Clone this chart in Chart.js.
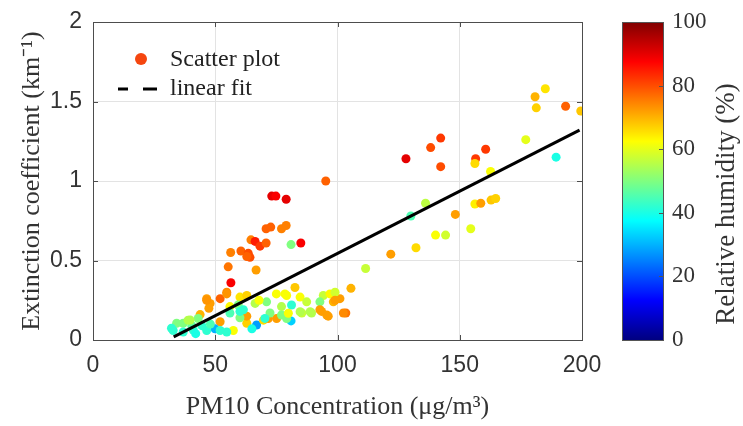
<!DOCTYPE html>
<html>
<head>
<meta charset="utf-8">
<script src="https://cdn.jsdelivr.net/npm/chart.js@4.4.1/dist/chart.umd.min.js"></script>
<style>
html,body{margin:0;padding:0;background:#fff;}
</style>
</head>
<body>
<canvas id="myChart" width="743" height="426"></canvas>
<script>
// values: PM10, extinction coefficient, relative humidity
var pm10 = [180.8,185,181.3,193.3,199.5,177,189.4,142.2,138.1,128,142.2,160.6,156.5,156.2,162.6,136,130,148.2,156.2,158.6,162.8,164.7,154.5,140.1,144.2,132.1,121.8,111.5,105.5,103.4,101,
  95.2,73.1,74.8,79,70.8,72.7,77.1,79,81,85,64.6,66.3,68.3,70.8,60.5,56.3,63.5,64.2,62.9,55.3,66.7,56.4,54.7,52,46.5,47.9,47.4,43.8,54.7,46.5,
  60.1,62.9,56,66.3,71,75,79.2,82.6,84.7,87.4,77.1,81.2,81,89.4,85.4,94.2,96.9,98.3,96.2,93.5,102.4,66.9,62.9,62.9,60.1,56,52,49.9,52,46.5,44.5,40.4,36.9,34.2,32.8,36.9,38.9,43,57.4,54.7,69.7,71.7,79.2,75.1,72.4,59.4,61.5,67.9,70.3,77.1,79.9,84.7,88.8,78.5,92.8,92.8,95.6,99,99,32.1,41,39.7,60.1,48,42,65];
var extinction = [1.53,1.58,1.46,1.47,1.44,1.26,1.15,1.27,1.21,1.14,1.09,1.20,1.14,1.11,1.06,0.86,0.78,0.79,0.855,0.86,0.88,0.89,0.70,0.66,0.66,0.58,0.54,0.45,0.325,0.17,0.26,
  1.0,0.905,0.905,0.885,0.70,0.71,0.70,0.72,0.60,0.61,0.63,0.62,0.59,0.61,0.56,0.55,0.545,0.52,0.525,0.46,0.44,0.36,0.30,0.26,0.26,0.23,0.20,0.16,0.29,0.25,
  0.27,0.28,0.21,0.23,0.24,0.29,0.28,0.33,0.27,0.24,0.21,0.22,0.12,0.17,0.17,0.28,0.29,0.24,0.15,0.18,0.17,0.094,0.105,0.15,0.14,0.17,0.115,0.07,0.06,0.06,0.09,0.09,0.105,0.105,0.06,0.05,0.125,0.135,0.06,0.05,0.125,0.135,0.135,0.135,0.17,0.22,0.19,0.25,0.136,0.157,0.168,0.178,0.178,0.29,0.24,0.19,0.157,0.30,0.25,0.074,0.063,0.126,0.18,0.1,0.04,0.07];
var humidity = [70,65,67,78,68,60,40,82,80,90,80,82,82,66,62,56,45,72,64,72,68,67,60,62,58,66,72,57,70,76,72,
  78,90,88,90,78,78,75,75,50,88,75,85,82,78,78,75,80,80,78,76,72,88,74,78,72,72,72,70,73,73,
  65,67,63,55,50,62,62,68,62,57,55,42,33,55,57,57,63,70,72,72,74,28,67,72,50,45,72,30,42,42,42,47,50,50,42,42,55,50,62,42,66,72,50,72,50,50,42,62,42,50,62,55,55,62,50,72,72,58,72,42,42,55,42,45,40,40];
// linear fit end points
var fitX = [33, 199];
var fitY = [0.02, 1.32];
var rhTicks = [0, 20, 40, 60, 80, 100];

function jet(v){
  v = v / 100;
  function c(t){ return Math.round(255 * Math.max(0, Math.min(1, t))); }
  return 'rgb(' + c(1.5 - Math.abs(4*v - 3)) + ',' + c(1.5 - Math.abs(4*v - 2)) + ',' + c(1.5 - Math.abs(4*v - 1)) + ')';
}

var scatterPts = pm10.map(function(x, i){ return {x: x, y: extinction[i]}; });
var fitPts = fitX.map(function(x, i){ return {x: x, y: fitY[i]}; });

// keep tick label overhang from shrinking the plot
function noPad(s){ s.paddingTop = 0; s.paddingBottom = 0; s.paddingLeft = 0; s.paddingRight = 0; }

//draws box, inward ticks, legend and the colour bar
var extras = {
  id: 'extras',
  afterDraw: function(chart){
    var ctx = chart.ctx, a = chart.chartArea;
    var sx = chart.scales.x, sy = chart.scales.y, rh = chart.scales.rh;
    ctx.save();
    ctx.strokeStyle = '#4d4d4d';
    ctx.lineWidth = 1;
    ctx.strokeRect(Math.round(a.left) + 0.5, Math.round(a.top) + 0.5, Math.round(a.width), Math.round(a.height));
    ctx.beginPath();
    sx.ticks.forEach(function(t){
      var px = Math.round(sx.getPixelForValue(t.value)) + 0.5;
      ctx.moveTo(px, a.bottom); ctx.lineTo(px, a.bottom - 5);
      ctx.moveTo(px, a.top); ctx.lineTo(px, a.top + 5);
    });
    sy.ticks.forEach(function(t){
      var py = Math.round(sy.getPixelForValue(t.value)) + 0.5;
      ctx.moveTo(a.left, py); ctx.lineTo(a.left + 5, py);
      ctx.moveTo(a.right, py); ctx.lineTo(a.right - 5, py);
    });
    ctx.stroke();

    // legend
    var ds = chart.data.datasets;
    ctx.font = '24px "Liberation Serif"';
    ctx.textBaseline = 'middle';
    ctx.textAlign = 'left';
    ctx.beginPath();
    ctx.fillStyle = 'rgb(245,70,15)';
    ctx.arc(a.left + 48, a.top + 37, 6, 0, Math.PI * 2);
    ctx.fill();
    ctx.fillStyle = '#222';
    ctx.fillText(ds[1].label, a.left + 77, a.top + 38);
    ctx.strokeStyle = '#000';
    ctx.lineWidth = 3;
    ctx.beginPath();
    ctx.moveTo(a.left + 25, a.top + 67); ctx.lineTo(a.left + 35, a.top + 67);
    ctx.moveTo(a.left + 50, a.top + 67); ctx.lineTo(a.left + 64, a.top + 67);
    ctx.stroke();
    ctx.fillText(ds[0].label, a.left + 77, a.top + 67);

    // colour bar
    var top = rh.getPixelForValue(100), bot = rh.getPixelForValue(0);
    var bx = rh.left + 40, bw = 41;
    var g = ctx.createLinearGradient(0, bot, 0, top);
    for (var i = 0; i <= 40; i++) g.addColorStop(i / 40, jet(i * 2.5));
    ctx.fillStyle = g;
    ctx.fillRect(bx, top, bw, bot - top);
    ctx.strokeStyle = '#555';
    ctx.lineWidth = 1;
    ctx.strokeRect(bx + 0.5, Math.round(top) + 0.5, bw, Math.round(bot - top));
    ctx.beginPath();
    rhTicks.forEach(function(v){
      var py = Math.round(rh.getPixelForValue(v)) + 0.5;
      ctx.moveTo(bx + bw, py); ctx.lineTo(bx + bw - 4, py);
    });
    ctx.stroke();

    // colour bar title
    ctx.save();
    ctx.translate(rh.left + 145, (a.top + a.bottom) / 2 + 23);
    ctx.rotate(-Math.PI / 2);
    ctx.textAlign = 'center';
    ctx.fillStyle = '#333';
    ctx.font = '27px "Liberation Serif"';
    ctx.fillText('Relative humidity (%)', 0, 0);
    ctx.restore();
    ctx.restore();
  }
};

const ctx = document.getElementById('myChart').getContext('2d');
const myChart = new Chart(ctx, {
  data: {
    datasets: [{
      type: 'line',
      label: 'linear fit',
      data: fitPts,
      borderColor: '#000',
      borderWidth: 3,
      pointRadius: 0,
      fill: false,
      order: 0
    }, {
      type: 'scatter',
      label: 'Scatter plot',
      data: scatterPts,
      pointBackgroundColor: humidity.map(jet),
      pointBorderWidth: 0,
      pointRadius: 4.5,
      order: 1
    }]
  },
  options: {
    responsive: false,
    animation: false,
    layout: { padding: { top: 22, left: 0, right: 0, bottom: 0 } },
    plugins: { legend: { display: false }, tooltip: { enabled: false } },
    scales: {
      x: {
        type: 'linear', min: 0, max: 200,
        ticks: { stepSize: 50, padding: 12, color: '#333', font: { family: 'Liberation Sans', size: 23 } },
        grid: { color: '#e3e3e3', drawTicks: false },
        border: { display: false },
        title: { display: true, text: 'PM10 Concentration (μg/m³)', color: '#333',
          font: { family: 'Liberation Serif', size: 26 }, padding: { top: 0, bottom: 3 } },
        afterFit: function(s){ s.height = 86; noPad(s); }
      },
      y: {
        type: 'linear', min: 0, max: 2,
        ticks: { stepSize: 0.5, padding: 11, color: '#333', font: { family: 'Liberation Sans', size: 23 },
          callback: function(v){ return String(v); } },
        grid: { color: '#e3e3e3', drawTicks: false },
        border: { display: false },
        title: { display: true, text: 'Extinction coefficient (km⁻¹)', color: '#333',
          font: { family: 'Liberation Serif', size: 26 }, padding: { top: 17, bottom: 0 } },
        afterFit: function(s){ s.width = 93; noPad(s); }
      },
      rh: {
        type: 'linear', position: 'right', min: 0, max: 100,
        ticks: { stepSize: 20, padding: 82, color: '#333', font: { family: 'Liberation Serif', size: 23 } },
        grid: { display: false },
        border: { display: false },
        afterFit: function(s){ s.width = 161; noPad(s); }
      }
    }
  },
  plugins: [extras]
});
</script>
</body>
</html>
